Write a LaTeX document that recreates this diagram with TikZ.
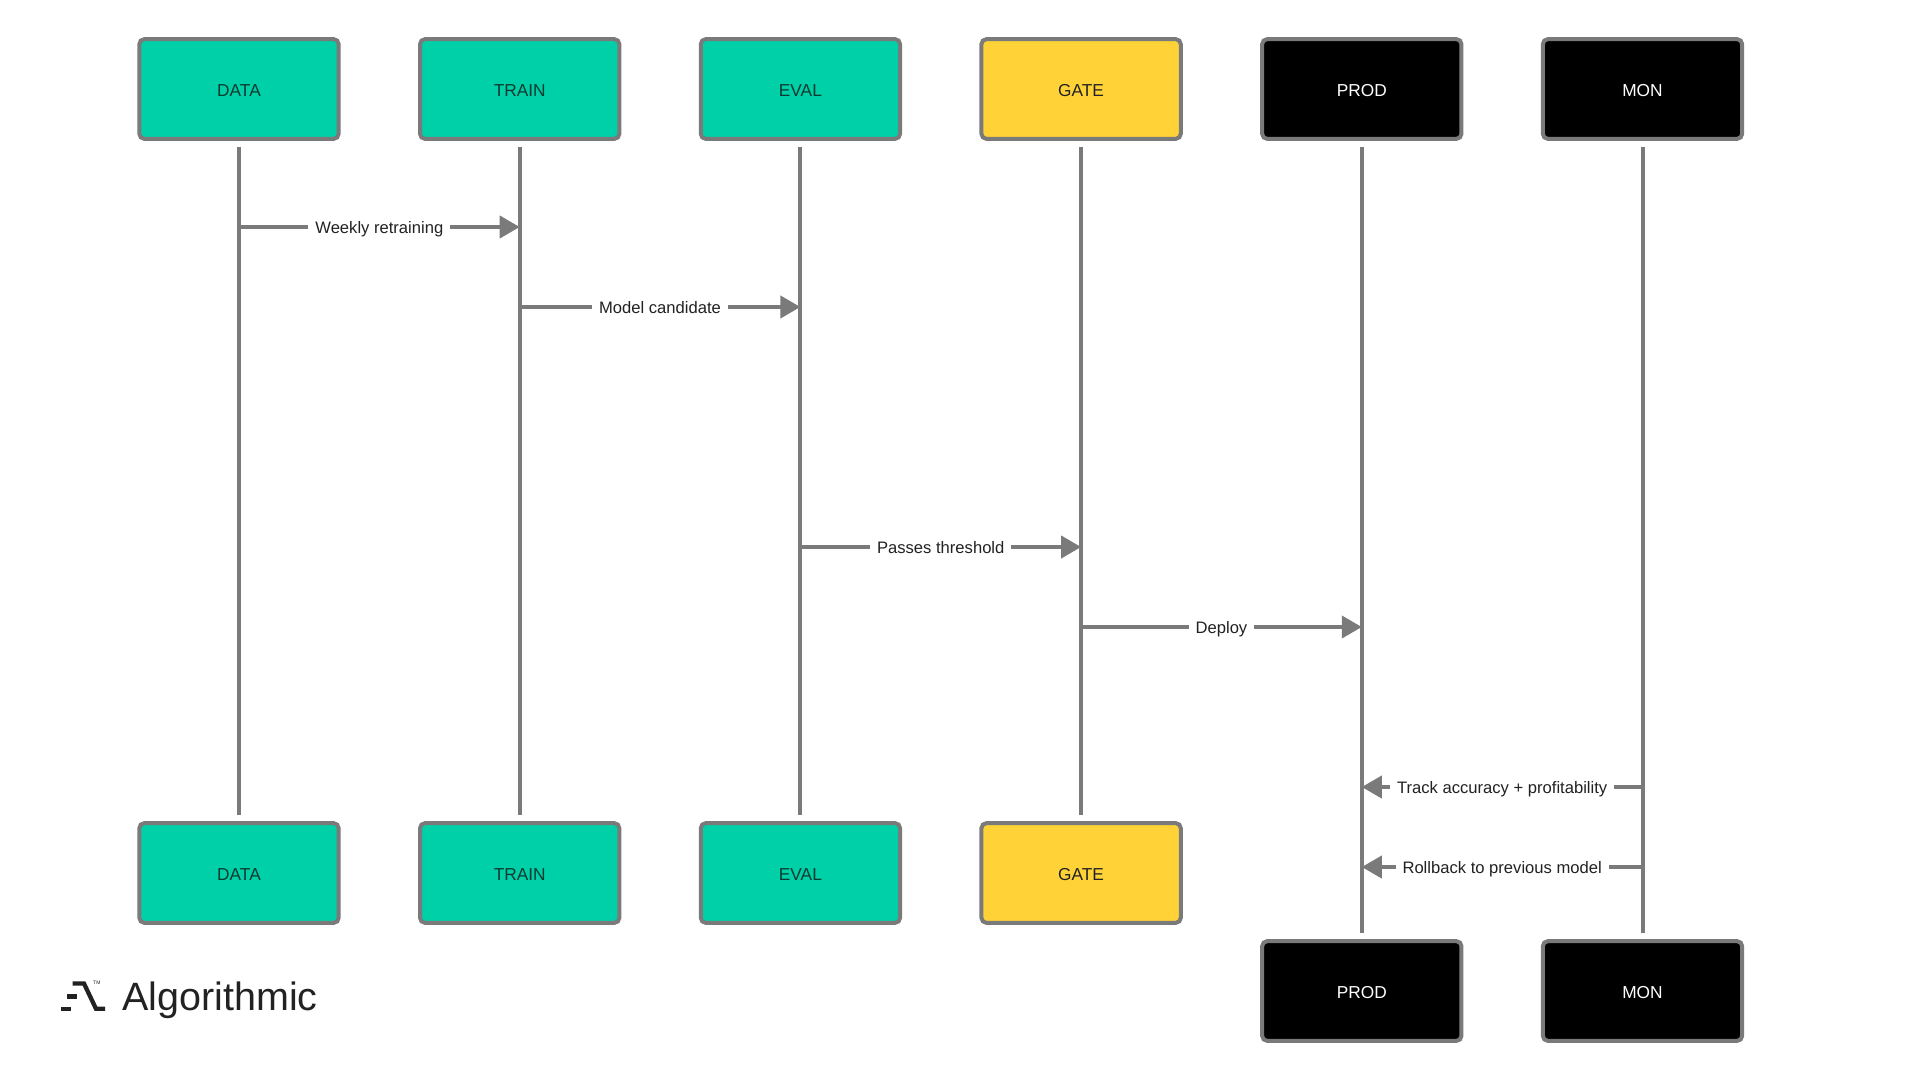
\documentclass[tikz,border=0pt]{standalone}
\usepackage{fontspec}
\setmainfont{Liberation Sans}
\usetikzlibrary{arrows.meta}
\definecolor{tealbox}{HTML}{00D0A8}
\definecolor{yellowbox}{HTML}{FFD338}
\definecolor{linegray}{HTML}{7A7A7A}
\definecolor{inkdark}{HTML}{222222}
\definecolor{inkteal}{HTML}{0C3A30}

\begin{document}
\begin{tikzpicture}[x=1pt,y=1pt,node distance=280.7pt,
    box/.style={draw=linegray,line width=4pt,rounded corners=5pt,minimum width=199.3pt,minimum height=99.7pt,text height=14pt,text depth=0pt,font=\fontsize{17.3}{20}\selectfont},
    green box/.style={box,fill=tealbox,text=inkteal},
    gold box/.style={box,fill=yellowbox,text=inkdark},
    dark box/.style={box,fill=black,text=white},
    lifeline/.style={draw=linegray,line width=4pt,shorten <=6pt,shorten >=6pt},
    message/.style={draw=linegray,line width=4pt,-{Triangle[length=20pt,width=22pt]}},
    msg label/.style={fill=white,text=inkdark,inner xsep=7pt,inner ysep=2pt,text height=14pt,text depth=2pt,font=\fontsize{16.6}{19}\selectfont}]

                \useasboundingbox (0,0) rectangle (1920,-1080);

                % top row
                \node[green box] (data) at (239,-89) {DATA};
                \node[green box] (train) [right of = data] {TRAIN};
                \node[green box] (eval) [right of = train] {EVAL};
                \node[gold box] (gate) [right of = eval] {GATE};
                \node[dark box] (prod) [right of = gate] {PROD};
                \node[dark box] (mon) [right of = prod] {MON};

                % bottom row
                \node[green box] (data2) [below of = data, node distance=784pt] {DATA};
                \node[green box] (train2) [right of = data2] {TRAIN};
                \node[green box] (eval2) [right of = train2] {EVAL};
                \node[gold box] (gate2) [right of = eval2] {GATE};
                \node[dark box] (prod2) [below of = prod, node distance=902pt] {PROD};
                \node[dark box] (mon2) [right of = prod2] {MON};

                \draw[lifeline] (data) to (data2);
                \draw[lifeline] (train) to (train2);
                \draw[lifeline] (eval) to (eval2);
                \draw[lifeline] (gate) to (gate2);
                \draw[lifeline] (prod) to (prod2);
                \draw[lifeline] (mon) to (mon2);

                \coordinate (row1) at (0,-227);
                \coordinate (row2) at (0,-307);
                \coordinate (row3) at (0,-547);
                \coordinate (row4) at (0,-627);
                \coordinate (row5) at (0,-787);
                \coordinate (row6) at (0,-867);

                \draw[message] (data |- row1) to node[msg label] {Weekly retraining} (train |- row1);
                \draw[message] (train |- row2) to node[msg label] {Model candidate} (eval |- row2);
                \draw[message] (eval |- row3) to node[msg label] {Passes threshold} (gate |- row3);
                \draw[message] (gate |- row4) to node[msg label] {Deploy} (prod |- row4);
                \draw[message] (mon |- row5) to node[msg label] {Track accuracy + profitability} (prod |- row5);
                \draw[message] (mon |- row6) to node[msg label] {Rollback to previous model} (prod |- row6);

                % logo
                \node[anchor=base west,inner sep=0pt,text=inkdark,font=\fontsize{39.5}{44}\selectfont] (brand) at (122,-1010.7) {Algorithmic};
                \node[anchor=north west,inner sep=0pt,text=inkdark,font=\fontsize{5}{6}\selectfont] (tm) at (93,-981) {TM};
                \fill[inkdark] (61,-1006.7) rectangle (70.7,-1011);
                \fill[inkdark] (66.7,-994.3) rectangle (76.7,-998.7);
                \draw[inkdark,line width=4.3pt] (72.7,-983.5) -- (84,-983.5) -- (96,-1008.8) -- (105,-1008.8);
\end{tikzpicture}
\end{document}
